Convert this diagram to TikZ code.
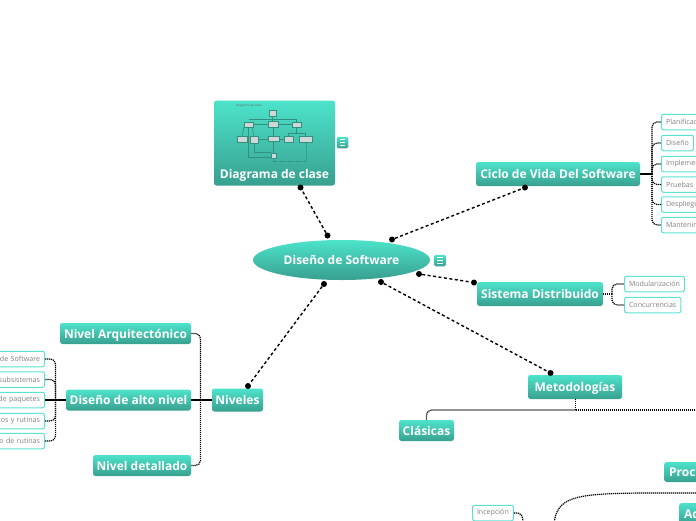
\documentclass[tikz,border=0pt]{standalone}
\usepackage{fontspec}
\setmainfont{Open Sans}
\usetikzlibrary{positioning, shapes.geometric}

\definecolor{tealtop}{HTML}{4DE3CB}
\definecolor{tealbot}{HTML}{38A08F}
\definecolor{leafline}{HTML}{5CE3D0}
\definecolor{leaftext}{HTML}{808080}
\definecolor{umlline}{HTML}{33907F}
\definecolor{umlbox}{HTML}{CFD8D6}

\begin{document}
\begin{tikzpicture}[x=1pt, y=-1pt]
    % settings can be global or per picture
    \tikzset{
      title/.style={text=white, font=\fontsize{12}{14}\selectfont\bfseries, text height=9pt, text depth=0pt, inner sep=0pt},
      topic/.style={title, rounded corners=2.5pt, top color=tealtop, bottom color=tealbot},
      hub/.style={title, ellipse, top color=tealtop, bottom color=tealbot},
      leaf/.style={draw=leafline, line width=1pt, rounded corners=2pt, fill=white, text=leaftext,
        font=\fontsize{7.1}{8}\selectfont, minimum height=15.5pt, inner xsep=4.5pt, inner ysep=0pt},
      leftleaf/.style={leaf, anchor=east, text width=90pt, align=right},
      knob/.style={circle, fill=black, minimum size=6pt, inner sep=0pt},
      link/.style={line width=1.4pt, dash pattern=on 3pt off 2.5pt},
      branch/.style={line width=1.2pt, dash pattern=on 1.2pt off 0.8pt, rounded corners=5pt},
      stub/.style={line width=1.8pt},
      noteicon/.style={rounded corners=1.5pt, top color=tealtop, bottom color=tealbot, minimum size=11.5pt, inner sep=0pt,
        path picture={
          \draw[white, line width=0.8pt]
            ([xshift=3pt, yshift=3pt]path picture bounding box.south west) -- ([xshift=-3pt, yshift=3pt]path picture bounding box.south east)
            ([xshift=3pt]path picture bounding box.west) -- ([xshift=-3pt]path picture bounding box.east)
            ([xshift=3pt, yshift=-3pt]path picture bounding box.north west) -- ([xshift=-3pt, yshift=-3pt]path picture bounding box.north east);
        }},
      umlclass/.style={draw=umlline, line width=0.4pt, fill=umlbox, inner sep=0pt},
      umlrel/.style={draw=umlline, line width=0.6pt},
    }
    \useasboundingbox (0,0) rectangle (696,520);

    % center
    \node[hub, minimum width=177pt, minimum height=40pt] (soft) at (341.5,260) {Diseño de Software};
    \node[noteicon] (softnote) at (440,260.5) {};

    % topics
    \node[topic, minimum width=121pt, minimum height=85pt] (diag) at (274.5,143) {};
    \node[title] (diaglabel) at (274.5,174) {Diagrama de clase};
    \node[noteicon] (diagnote) at (342.5,142.5) {};
    \node[topic, minimum width=164pt, minimum height=24pt] (ciclo) at (558,174) {Ciclo de Vida Del Software};
    \node[topic, minimum width=126pt, minimum height=24pt] (sist) at (540,294) {Sistema Distribuido};
    \node[topic, minimum width=94pt, minimum height=24pt] (meto) at (575,387) {Metodologías};
    \node[topic, minimum width=51pt, minimum height=23pt] (niv) at (237.5,400) {Niveles};
    \node[topic, minimum width=55pt, minimum height=21pt] (clas) at (426.5,430.5) {Clásicas};
    \node[topic, minimum width=131pt, minimum height=21pt] (arq) at (125.5,333.5) {Nivel Arquitectónico};
    \node[topic, minimum width=125pt, minimum height=21pt] (alto) at (128.5,400) {Diseño de alto nivel};
    \node[topic, minimum width=98pt, minimum height=21pt] (det) at (142,465.5) {Nivel detallado};
    \node[topic, anchor=west, text width=60pt, inner xsep=5pt, minimum height=20pt, align=left] (proc) at (664,472) {Proc};
    \node[topic, anchor=west, text width=60pt, inner xsep=5pt, minimum height=21pt, align=left] (adap) at (679,513.5) {Ad};

    % leaves
    \node[leaf, anchor=west] (plan) at (661,122) {Planificación};
    \node[leaf, anchor=west] (dise) at (661,143) {Diseño};
    \node[leaf, anchor=west] (impl) at (661,164) {Implementación};
    \node[leaf, anchor=west] (prue) at (661,184.5) {Pruebas};
    \node[leaf, anchor=west] (desp) at (661,204.5) {Despliegue};
    \node[leaf, anchor=west] (mant) at (661,225) {Mantenimiento};
    \node[leaf, anchor=west] (modu) at (624,284) {Modularización};
    \node[leaf, anchor=west] (conc) at (624,305) {Concurrencias};
    \node[leaf, anchor=west] (ince) at (472,513) {Incepción};
    \node[leftleaf] (leafa) at (45,359) {de Software};
    \node[leftleaf] (leafb) at (45,379.5) {subsistemas};
    \node[leftleaf] (leafc) at (45,400) {de paquetes};
    \node[leftleaf] (leafd) at (45,421) {tos y rutinas};
    \node[leftleaf] (leafe) at (45,441) {o de rutinas};

    % knobs
    \node[knob] (kdiaga) at (327.5,235.5) {};
    \node[knob] (kdiagb) at (300.5,187.5) {};
    \node[knob] (kcicloa) at (392,239.5) {};
    \node[knob] (kciclob) at (525,187.5) {};
    \node[knob] (ksista) at (419,274) {};
    \node[knob] (ksistb) at (474,282.5) {};
    \node[knob] (kmetoa) at (381,282) {};
    \node[knob] (kmetob) at (550.5,373) {};
    \node[knob] (knivaa) at (324,284) {};
    \node[knob] (knivab) at (248,386) {};

    % joints and free ends
    \coordinate (jciclo) at (652,174);
    \coordinate (jsist) at (612,294);
    \coordinate (jniv) at (200.5,400);
    \coordinate (jalto) at (55.5,400);
    \coordinate (jmeto) at (575.5,410);
    \coordinate (metoend) at (700,410);
    \coordinate (procend) at (700,493);
    \coordinate (procbend) at (640,493);
    \coordinate (agilend) at (554,525);
    \coordinate (inceend) at (523,525);

    % links
    \draw[link] (kdiaga) -- (kdiagb);
    \draw[link] (kcicloa) -- (kciclob);
    \draw[link] (ksista) -- (ksistb);
    \draw[link] (kmetoa) -- (kmetob);
    \draw[link] (knivaa) -- (knivab);

    % branches
    \draw[stub] (ciclo.east) -- (jciclo);
    \draw[branch] (jciclo) |- (plan.west);
    \draw[branch] (jciclo) |- (dise.west);
    \draw[branch] (jciclo) |- (impl.west);
    \draw[branch] (jciclo) |- (prue.west);
    \draw[branch] (jciclo) |- (desp.west);
    \draw[branch] (jciclo) |- (mant.west);
    \draw[branch, line width=1.6pt] (sist.east) -- (jsist);
    \draw[branch] (jsist) |- (modu.west);
    \draw[branch] (jsist) |- (conc.west);
    \draw[stub] (niv.west) -- (jniv);
    \draw[branch] (jniv) |- (arq.east);
    \draw[branch] (jniv) -- (alto.east);
    \draw[branch] (jniv) |- (det.east);
    \draw[stub] (alto.west) -- (jalto);
    \draw[branch] (jalto) |- (leafa.east);
    \draw[branch] (jalto) |- (leafb.east);
    \draw[branch] (jalto) -- (leafc.east);
    \draw[branch] (jalto) |- (leafd.east);
    \draw[branch] (jalto) |- (leafe.east);
    \draw[branch, line width=1.6pt] (meto.south -| jmeto) -- (jmeto);
    \draw[branch] (jmeto) -| (clas.north);
    \draw[branch] (jmeto) -- (metoend);
    \draw[branch] (procend) -- (procbend) .. controls (575,494) and (556,497) .. (agilend);
    \draw[branch] (ince.east) .. controls (522,512.5) and (523,515) .. (inceend);

    % small class diagram inside the picture topic
    \node[text=black!60, font=\fontsize{3}{3}\selectfont, inner sep=0pt] (umltitle) at (249,105.5) {Diagrama de clase};
    \draw[umlrel] (248.5,119.3) -| (296.5,122);
    \draw[umlrel] (272.5,116) -- (272.5,121);
    \draw[umlrel] (253,124.5) -- (268,124.5);
    \draw[umlrel] (278,124.5) -- (292,124.5);
    \draw[umlrel] (273,127) -- (273,136);
    \draw[umlrel] (244,127) -- (242,136);
    \draw[umlrel] (252,127) -- (254,136);
    \draw[umlrel] (258,139) -- (268,139);
    \draw[umlrel] (279,139) -- (284,139);
    \draw[umlrel] (273.5,141) -- (273.5,153);
    \draw[umlrel] (296.5,127) -- (296.5,133.5);
    \draw[umlrel] (288.5,136) |- (305.5,133.5) -- (305.5,136);
    \draw[umlrel] (248,127) |- (271,157);
    \draw[umlrel] (254,143) |- (271,152.5);
    \draw[umlrel, densely dotted] (273.5,158) |- (306,161.5) -- (306,142);
    \node[umlclass, minimum width=7pt, minimum height=6pt] (ua) at (272.5,113) {};
    \node[umlclass, minimum width=9pt, minimum height=5pt] (ub) at (248.5,124.5) {};
    \node[umlclass, minimum width=10pt, minimum height=6pt] (uc) at (273,124) {};
    \node[umlclass, minimum width=9pt, minimum height=5pt] (ud) at (296.5,124.5) {};
    \node[umlclass, minimum width=10pt, minimum height=6pt] (ue) at (242,139) {};
    \node[umlclass, minimum width=8pt, minimum height=7pt] (uf) at (254,139.5) {};
    \node[umlclass, minimum width=11pt, minimum height=5pt] (ug) at (273.5,138.5) {};
    \node[umlclass, minimum width=9pt, minimum height=6pt] (uh) at (288.5,139) {};
    \node[umlclass, minimum width=13pt, minimum height=6pt] (ui) at (305.5,139) {};
    \node[umlclass, minimum width=5pt, minimum height=5pt] (uj) at (273.5,155.5) {};

  \end{tikzpicture}
\end{document}
